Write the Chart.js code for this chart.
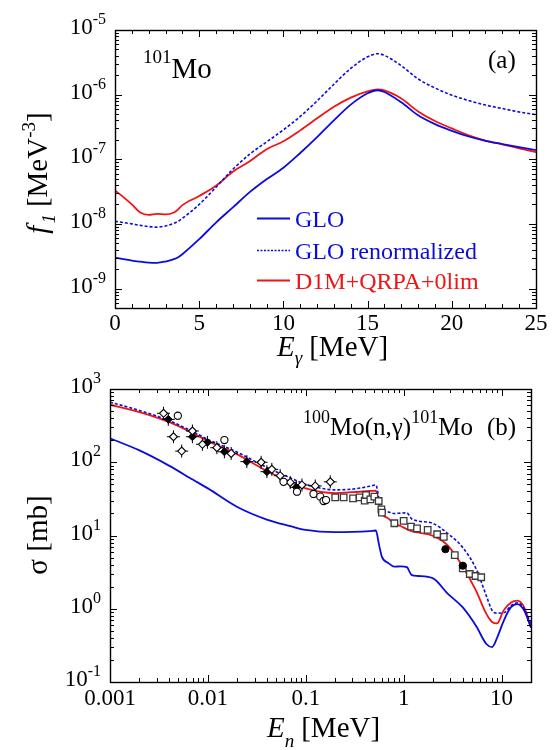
<!DOCTYPE html>
<html><head><meta charset="utf-8">
<script src="https://cdn.jsdelivr.net/npm/chart.js@4.4.1/dist/chart.umd.min.js"></script>
<style>
html,body{margin:0;padding:0;background:#fff;}
body{width:555px;height:750px;position:relative;overflow:hidden;}
#ca{position:absolute;left:0;top:0;}
#cb{position:absolute;left:0;top:370px;}
</style></head><body>
<canvas id="ca" width="555" height="370" style="width:555px;height:370px"></canvas>
<canvas id="cb" width="555" height="380" style="width:555px;height:380px"></canvas>
<script>
// ---------- Panel (a): photon strength function of 101Mo ----------
const EG = [0,0.5,1,1.5,2,2.5,3,3.5,3.75,4,5,6,7,8,9,10,11,12,13,14,15,15.6,16,17,18,19,20,21,22,23,24,25];
const GLO_A = [3.0e-9,2.85e-9,2.7e-9,2.6e-9,2.52e-9,2.5e-9,2.62e-9,2.85e-9,3.05e-9,3.4e-9,5.8e-9,1.05e-8,1.8e-8,3.1e-8,4.9e-8,7.4e-8,1.25e-7,2.2e-7,4.0e-7,7.0e-7,1.05e-6,1.17e-6,1.1e-6,7.6e-7,4.8e-7,3.5e-7,2.75e-7,2.25e-7,1.93e-7,1.72e-7,1.54e-7,1.38e-7];
const GLO_RENORM_A = [1.1e-8,1.05e-8,1.0e-8,9.5e-9,9.1e-9,8.9e-9,9.3e-9,1.02e-8,1.1e-8,1.22e-8,2.0e-8,3.7e-8,7.0e-8,1.2e-7,1.85e-7,2.85e-7,4.6e-7,8.0e-7,1.45e-6,2.55e-6,3.85e-6,4.3e-6,4.05e-6,2.8e-6,1.75e-6,1.27e-6,9.8e-7,8.1e-7,6.9e-7,6.1e-7,5.4e-7,4.9e-7];
const D1M_A = [3.3e-8,2.6e-8,2.0e-8,1.5e-8,1.38e-8,1.43e-8,1.4e-8,1.5e-8,1.68e-8,1.95e-8,2.7e-8,3.9e-8,6.4e-8,9.3e-8,1.43e-7,1.9e-7,2.8e-7,4.3e-7,6.5e-7,9.0e-7,1.12e-6,1.2e-6,1.16e-6,8.7e-7,5.5e-7,3.9e-7,3.0e-7,2.35e-7,1.95e-7,1.7e-7,1.47e-7,1.29e-7];
const SERIES_A = ['GLO','GLO renormalized','D1M+QRPA+0lim'];
const XA_TICKS = [0,5,10,15,20,25];
const YA_EXPONENTS = [-9,-8,-7,-6,-5];

// ---------- Panel (b): 100Mo(n,g)101Mo cross section ----------
const EN_B = [0.001,0.002,0.004,0.007,0.01,0.02,0.04,0.07,0.1,0.2,0.3,0.45,0.52,0.56,0.6,0.7,0.8,0.93,1.08,1.2,1.4,2.0,2.8,4.0,5.5,7.0,8.0,9.0,10.5,12.5,14.5,17,20];
const GLO_B = [212,145,90,58,44,24.5,16.5,13.4,11.9,11.1,11.2,11.5,11.7,7.5,5.1,4.2,3.75,3.8,3.7,2.9,2.8,2.6,1.62,1.05,0.58,0.33,0.30,0.40,0.68,1.05,1.16,0.95,0.55];
const GLO_RENORM_B = [660,510,370,262,205,137,85,61,50,42,43,47,49,32,23.6,21,20,20.2,20.4,17,15.8,14.6,10.7,6.9,3.5,1.5,0.95,0.87,0.88,1.1,1.21,1.0,0.62];
const D1M_B = [610,485,355,250,195,128,76,54,44,38,39,40.5,41,26,20,17,14.6,13.5,12.2,11.5,11.0,9.9,7.4,3.8,1.75,0.85,0.66,0.63,0.95,1.22,1.29,1.05,0.55];
const OPEN_DIAMOND_E = [0.00352,0.00445,0.0054,0.00695,0.0088,0.01235,0.0173,0.035,0.045,0.0548,0.0694,0.0914,0.125,0.178];
const OPEN_DIAMOND_S = [466,223,142,267,176,158,132,100,80,65.6,53,49,47.5,54];
const FILLED_DIAMOND_E = [0.00394,0.00695,0.00989,0.01475,0.025,0.0401,0.08];
const FILLED_DIAMOND_S = [385,223,187,139,102,74.3,45.5];
const OPEN_CIRCLE_E = [0.00493,0.01475,0.0593,0.0813,0.12,0.1406,0.152,0.161];
const OPEN_CIRCLE_S = [432,201,54,39.6,36.9,33.9,29.6,30.5];
const FILLED_CIRCLE_E = [2.67,4.02];
const FILLED_CIRCLE_S = [6.5,3.87];
const SQUARE_E = [0.2,0.244,0.304,0.355,0.4,0.413,0.457,0.502,0.556,0.592,0.6,0.804,1.0,1.19,1.37,1.76,2.2,2.57,3.33,4.02,4.74,5.42,6.2];
const SQUARE_S = [33.2,33.2,32.2,33.2,29.9,35.7,31.2,33.9,29.6,22.8,20.5,14.7,15.8,13.2,12.5,11.9,10.4,9.6,5.4,3.56,2.98,2.8,2.69];
const XB_TICKS = [0.001,0.01,0.1,1,10];
const XB_TICK_LABELS = ['0.001','0.01','0.1','1','10'];
const YB_EXPONENTS = [-1,0,1,2,3];

// ---------- styling ----------
const SERIF = "'Liberation Serif','Times New Roman',serif";
const BLUE = '#0b0bdc';
const RED = '#f01414';

function pts(xs, ys){ return xs.map((x,i)=>({x:x, y:ys[i]})); }

function runs(ctx, list, x, y, measureOnly){
  let cx = x;
  for (const r of list){
    ctx.font = (r.i ? 'italic ' : '') + r.s + 'px ' + SERIF;
    if (!measureOnly){ ctx.fillStyle = r.c || '#000'; ctx.fillText(r.t, cx, y + (r.dy || 0)); }
    cx += ctx.measureText(r.t).width + (r.gap || 0);
  }
  return cx - x;
}

function logTicks(min, max){
  const out = [];
  for (let e = Math.floor(Math.log10(min)) ; e <= Math.ceil(Math.log10(max)); e++){
    for (let k = 1; k <= 9; k++){
      const v = k * Math.pow(10, e);
      if (v >= min*0.9999 && v <= max*1.0001) out.push({v:v, major:k===1});
    }
  }
  return out;
}
function linTicks(min, max, minorStep, majorStep){
  const out = [];
  for (let v = min; v <= max + 1e-9; v += minorStep) out.push({v:v, major: Math.abs(v/majorStep - Math.round(v/majorStep)) < 1e-6});
  return out;
}

function decor(spec){
  return {
    id: 'decor' + spec.name,
    afterDraw(chart){
      const ctx = chart.ctx, a = chart.chartArea, xs = chart.scales.x, ys = chart.scales.y;
      ctx.save();
      ctx.strokeStyle = '#000'; ctx.lineWidth = 1;
      ctx.beginPath();
      for (const t of spec.xt){
        const p = Math.round(xs.getPixelForValue(t.v)) + 0.5;
        const L = t.major ? 7 : 4;
        ctx.moveTo(p, a.bottom); ctx.lineTo(p, a.bottom - L);
        ctx.moveTo(p, a.top); ctx.lineTo(p, a.top + L);
      }
      for (const t of spec.yt){
        const p = Math.round(ys.getPixelForValue(t.v)) + 0.5;
        const L = t.major ? 7 : 4;
        ctx.moveTo(a.left, p); ctx.lineTo(a.left + L, p);
        ctx.moveTo(a.right, p); ctx.lineTo(a.right - L, p);
      }
      ctx.stroke();
      ctx.lineWidth = 1.4;
      ctx.strokeRect(Math.round(a.left)+0.5, Math.round(a.top)+0.5, Math.round(a.right-a.left), Math.round(a.bottom-a.top));
      // y tick labels 10^n
      ctx.textBaseline = 'alphabetic';
      for (const e of spec.yexp){
        const p = ys.getPixelForValue(Math.pow(10, e));
        const ex = String(e);
        ctx.font = '16px ' + SERIF; const we = ctx.measureText(ex).width;
        ctx.font = '23px ' + SERIF; const wt = ctx.measureText('10').width;
        const right = a.left - 9;
        ctx.fillStyle = '#000';
        ctx.fillText('10', right - we - wt, p + 4);
        ctx.font = '16px ' + SERIF;
        ctx.fillText(ex, right - we, p - 6);
      }
      spec.extra(ctx, chart);
      ctx.restore();
    }
  };
}

const tickFont = {family: SERIF, size: 23};

// ---------- chart (a) ----------
const dsA = [
  {label: SERIES_A[0], data: pts(EG, GLO_A), borderColor: BLUE, borderWidth: 1.8, borderDash: []},
  {label: SERIES_A[1], data: pts(EG, GLO_RENORM_A), borderColor: BLUE, borderWidth: 1.6, borderDash: [3,2]},
  {label: SERIES_A[2], data: pts(EG, D1M_A), borderColor: RED, borderWidth: 1.8, borderDash: []}
].map(d => Object.assign(d, {showLine: true, pointRadius: 0, fill: false, cubicInterpolationMode: 'monotone'}));

new Chart(document.getElementById('ca'), {
  type: 'scatter',
  data: {datasets: dsA},
  options: {
    responsive: false, animation: false, devicePixelRatio: 1,
    layout: {padding: {left: 0, right: 19, top: 30, bottom: 0}},
    plugins: {legend: {display: false}, tooltip: {enabled: false}},
    scales: {
      x: {type: 'linear', min: 0, max: 25,
          afterBuildTicks: s => { s.ticks = XA_TICKS.map(v => ({value: v})); },
          ticks: {font: tickFont, color: '#000', padding: 2, maxRotation: 0, autoSkip: false},
          grid: {display: false, drawTicks: false}, border: {display: false},
          afterFit: s => { s.height = 62; }},
      y: {type: 'logarithmic', min: 5e-10, max: 1e-5,
          ticks: {display: false}, grid: {display: false, drawTicks: false}, border: {display: false},
          afterFit: s => { s.width = 115; }}
    }
  },
  plugins: [decor({
    name: 'A',
    xt: linTicks(0, 25, 1, 5),
    yt: logTicks(5e-10, 1e-5),
    yexp: YA_EXPONENTS,
    extra(ctx, chart){
      runs(ctx, [{t:'E', s:29, i:1}, {t:'γ', s:19, i:1, dy:8, gap:7}, {t:'[MeV]', s:29}], 277, 356);
      ctx.save();
      ctx.translate(47, 173);
      ctx.rotate(-Math.PI/2);
      const yt = [{t:'f', s:29, i:1, gap:2}, {t:'1', s:19, i:1, dy:8, gap:7}, {t:'[MeV', s:29}, {t:'-3', s:19, dy:-12}, {t:']', s:29}];
      const w = runs(ctx, yt, 0, 0, true);
      runs(ctx, yt, -w/2, 0);
      ctx.restore();
      runs(ctx, [{t:'101', s:19, dy:-15}, {t:'Mo', s:29}], 143, 78);
      runs(ctx, [{t:'(a)', s:25}], 488, 68);
      const rows = [218, 250, 280];
      chart.data.datasets.forEach((d, i) => {
        const y = rows[i];
        ctx.save();
        ctx.strokeStyle = d.borderColor; ctx.lineWidth = d.borderWidth;
        ctx.setLineDash(d.borderDash.length ? [2,1.5] : []);
        ctx.beginPath(); ctx.moveTo(257, y + 0.5); ctx.lineTo(290, y + 0.5); ctx.stroke();
        ctx.restore();
        runs(ctx, [{t: d.label, s: 24, c: d.borderColor}], 295, y + 9);
      });
    }
  })]
});

// ---------- chart (b) ----------
const lineB = (label, ys, color, dash, w) => ({label: label, data: pts(EN_B, ys), borderColor: color, borderWidth: w, borderDash: dash,
  showLine: true, pointRadius: 0, fill: false, cubicInterpolationMode: 'monotone', order: 10});
const markB = (label, xs, ys, style, r, bg, bc, bw, order) => ({label: label, data: pts(xs, ys), showLine: false,
  pointStyle: style, pointRadius: r, backgroundColor: bg, borderColor: bc, borderWidth: bw, order: order});

const dsB = [
  lineB('GLO', GLO_B, BLUE, [], 1.8),
  lineB('GLO renormalized', GLO_RENORM_B, BLUE, [3,2], 1.6),
  lineB('D1M+QRPA+0lim', D1M_B, RED, [], 1.8),
  markB('exp A error bars', OPEN_DIAMOND_E, OPEN_DIAMOND_S, 'cross', 6.5, '#000', '#000', 1, 4),
  markB('exp A', OPEN_DIAMOND_E, OPEN_DIAMOND_S, 'rectRot', 4, '#fff', '#000', 1.1, 3),
  markB('exp B error bars', FILLED_DIAMOND_E, FILLED_DIAMOND_S, 'cross', 6.5, '#000', '#000', 1, 4),
  markB('exp B', FILLED_DIAMOND_E, FILLED_DIAMOND_S, 'rectRot', 4, '#000', '#000', 1, 3),
  markB('exp C', OPEN_CIRCLE_E, OPEN_CIRCLE_S, 'circle', 3.6, '#fff', '#000', 1.1, 2),
  markB('exp D', FILLED_CIRCLE_E, FILLED_CIRCLE_S, 'circle', 3.6, '#000', '#000', 1, 1),
  markB('exp E', SQUARE_E, SQUARE_S, 'rect', 4.6, '#fff', '#3a3a3a', 1.3, 1)
];

new Chart(document.getElementById('cb'), {
  type: 'scatter',
  data: {datasets: dsB},
  options: {
    responsive: false, animation: false, devicePixelRatio: 1,
    layout: {padding: {left: 0, right: 24, top: 19, bottom: 0}},
    plugins: {legend: {display: false}, tooltip: {enabled: false}},
    scales: {
      x: {type: 'logarithmic', min: 0.001, max: 20,
          afterBuildTicks: s => { s.ticks = XB_TICKS.map(v => ({value: v})); },
          ticks: {font: tickFont, color: '#000', padding: 3, maxRotation: 0, autoSkip: false,
                  callback: (v, i) => XB_TICK_LABELS[i]},
          grid: {display: false, drawTicks: false}, border: {display: false},
          afterFit: s => { s.height = 68; }},
      y: {type: 'logarithmic', min: 0.1, max: 1000,
          ticks: {display: false}, grid: {display: false, drawTicks: false}, border: {display: false},
          afterFit: s => { s.width = 110; }}
    }
  },
  plugins: [decor({
    name: 'B',
    xt: logTicks(0.001, 20),
    yt: logTicks(0.1, 1000),
    yexp: YB_EXPONENTS,
    extra(ctx, chart){
      runs(ctx, [{t:'E', s:29, i:1}, {t:'n', s:19, i:1, dy:10, gap:7}, {t:'[MeV]', s:29}], 267, 367);
      ctx.save();
      ctx.translate(47, 165);
      ctx.rotate(-Math.PI/2);
      const yt = [{t:'σ [mb]', s:29}];
      const w = runs(ctx, yt, 0, 0, true);
      runs(ctx, yt, -w/2, 0);
      ctx.restore();
      runs(ctx, [{t:'100', s:18, dy:-12}, {t:'Mo(n,γ)', s:25}, {t:'101', s:18, dy:-12}, {t:'Mo', s:25, gap:14}, {t:'(b)', s:25}], 303, 65);
    }
  })]
});
</script>
</body></html>
